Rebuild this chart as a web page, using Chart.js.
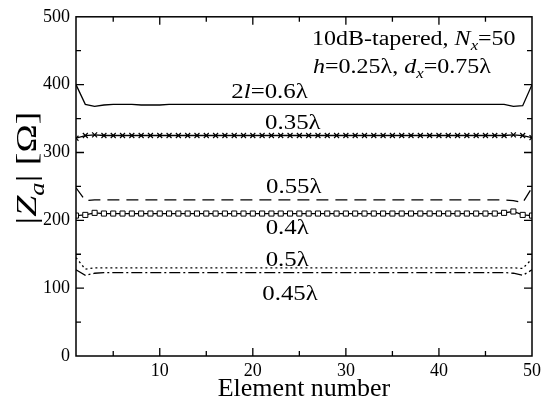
<!DOCTYPE html>
<html><head><meta charset="utf-8">
<script src="https://cdn.jsdelivr.net/npm/chart.js@4.4.0/dist/chart.umd.min.js"></script>
<style>html,body{margin:0;padding:0;background:#fff}#wrap{width:546px;height:404px}</style>
</head><body><div id="wrap"><canvas id="c" width="546" height="404"></canvas></div>
<script>
const elements = Array.from({length:50},(_,i)=>i+1);
const s06 = [400,371,368,370,371,371,371,370,370,370,371,371,371,371,371,371,371,371,371,371,371,371,371,371,371,371,371,371,371,371,371,371,371,371,371,371,371,371,371,371,371,371,371,371,371,371,371,368,369,400];
const s035 = [321,325,326,325,325,325,325,325,325,325,325,325,325,325,325,325,325,325,325,325,325,325,325,325,325,325,325,325,325,325,325,325,325,325,325,325,325,325,325,325,325,325,325,325,325,325,325,326,325,322];
const s055 = [248,229,230,230,230,230,230,230,230,230,230,230,230,230,230,230,230,230,230,230,230,230,230,230,230,230,230,230,230,230,230,230,230,230,230,230,230,230,230,230,230,230,230,230,230,230,230,229,226,248];
const s04 = [207,208,211,210,210,210,210,210,210,210,210,210,210,210,210,210,210,210,210,210,210,210,210,210,210,210,210,210,210,210,210,210,210,210,210,210,210,210,210,210,210,210,210,210,210,210,211,213,208,207];
const s05 = [145,128,130,130,130,130,130,130,130,130,130,130,130,130,130,130,130,130,130,130,130,130,130,130,130,130,130,130,130,130,130,130,130,130,130,130,130,130,130,130,130,130,130,130,130,130,130,130,129,143];
const s045 = [127,119,122,123,123,123,123,123,123,123,123,123,123,123,123,123,123,123,123,123,123,123,123,123,123,123,123,123,123,123,123,123,123,123,123,123,123,123,123,123,123,123,123,123,123,123,123,122,119,127];
const xTickLabels = [10,20,30,40,50];
const yTickLabels = [0,100,200,300,400,500];

const F = 'Liberation Serif';
const toPts = arr => arr.map((v,i)=>({x:elements[i], y:v}));

function drawRich(ctx, segs, x, y, size, align, hs){
  hs = hs || 1;
  let w = 0;
  const fontOf = s => (s.italic?'italic ':'') + (s.sub? Math.round(size*0.7):size) + 'px "'+F+'"';
  segs.forEach(s=>{ctx.font=fontOf(s); s.w=ctx.measureText(s.t).width; w+=s.w;});
  ctx.save();
  ctx.translate(x, y);
  ctx.scale(hs, 1);
  let cx = align==='center'? -w/2 : align==='right'? -w : 0;
  ctx.textBaseline='alphabetic';
  ctx.textAlign='left';
  segs.forEach(s=>{ctx.font=fontOf(s); ctx.fillText(s.t, cx, (s.sub? size*0.25:0)); cx+=s.w;});
  ctx.restore();
}

const decor = {
  id:'decor',
  afterDraw(chart){
    const {ctx, chartArea:a, scales:{x,y}} = chart;
    ctx.save();
    ctx.strokeStyle='#000'; ctx.lineWidth=1.5;
    ctx.strokeRect(a.left, a.top, a.right-a.left, a.bottom-a.top);
    ctx.lineWidth=1.3;
    ctx.beginPath();
    for(let v=5; v<50; v+=5){
      const px=x.getPixelForValue(v), L = v%10===0?8:5;
      ctx.moveTo(px,a.bottom); ctx.lineTo(px,a.bottom-L);
      ctx.moveTo(px,a.top); ctx.lineTo(px,a.top+L);
    }
    for(let v=50; v<500; v+=50){
      const py=y.getPixelForValue(v), L = v%100===0?8:5;
      ctx.moveTo(a.left,py); ctx.lineTo(a.left+L,py);
      ctx.moveTo(a.right,py); ctx.lineTo(a.right-L,py);
    }
    ctx.stroke();
    ctx.fillStyle='#000';
    const X=v=>x.getPixelForValue(v), Y=v=>y.getPixelForValue(v);
    drawRich(ctx,[{t:'10dB-tapered, '},{t:'N',italic:true},{t:'x',italic:true,sub:true},{t:'=50'}], 312, 45, 20,'left',1.2);
    drawRich(ctx,[{t:'h',italic:true},{t:'=0.25λ, '},{t:'d',italic:true},{t:'x',italic:true,sub:true},{t:'=0.75λ'}], 313, 73, 20,'left',1.2);
    drawRich(ctx,[{t:'2'},{t:'l',italic:true},{t:'=0.6λ'}], X(21.8), Y(381), 22,'center',1.13);
    drawRich(ctx,[{t:'0.35λ'}], X(24.3), Y(334), 22,'center',1.13);
    drawRich(ctx,[{t:'0.55λ'}], X(24.4), Y(240), 22,'center',1.13);
    drawRich(ctx,[{t:'0.4λ'}], X(23.7), Y(180), 22,'center',1.13);
    drawRich(ctx,[{t:'0.5λ'}], X(23.7), Y(133), 22,'center',1.13);
    drawRich(ctx,[{t:'0.45λ'}], X(24), Y(82), 22,'center',1.13);
    drawRich(ctx,[{t:'Element number'}], 304, 396, 26,'center');
    ctx.save();
    ctx.translate(36,168); ctx.rotate(-Math.PI/2);
    drawRich(ctx,[{t:'|'},{t:'Z',italic:true},{t:'a',italic:true,sub:true},{t:'| [Ω]'}], 0, 0, 30,'center',1.27);
    ctx.restore();
    ctx.restore();
  }
};

const common = {borderColor:'#000', backgroundColor:'#000', borderWidth:1.3, pointRadius:0, tension:0, fill:false};
new Chart(document.getElementById('c'), {
  type:'line',
  data:{datasets:[
    {...common, label:'2l=0.6λ', data:toPts(s06)},
    {...common, label:'0.35λ', data:toPts(s035), pointStyle:'crossRot', pointRadius:3.5, pointBorderWidth:1.2},
    {...common, label:'0.55λ', data:toPts(s055), borderDash:[12,7]},
    {...common, label:'0.4λ', data:toPts(s04), pointStyle:'rect', pointRadius:3.6, pointBackgroundColor:'#fff', pointBorderWidth:1},
    {...common, label:'0.5λ', data:toPts(s05), borderDash:[2,3]},
    {...common, label:'0.45λ', data:toPts(s045), borderDash:[11,3,2,3]},
  ]},
  options:{
    responsive:false, animation:false, events:[],
    layout:{padding:{left:0,right:14,top:15,bottom:0}},
    plugins:{legend:{display:false}, tooltip:{enabled:false}},
    scales:{
      x:{type:'linear', min:1, max:50,
        grid:{display:false, drawTicks:false}, border:{display:false},
        afterBuildTicks:s=>{s.ticks=xTickLabels.map(v=>({value:v}));},
        afterFit:s=>{s.height=48;},
        ticks:{font:{family:F,size:18}, color:'#000', padding:4, maxRotation:0}
      },
      y:{min:0, max:500,
        grid:{display:false, drawTicks:false}, border:{display:false},
        afterBuildTicks:s=>{s.ticks=yTickLabels.map(v=>({value:v}));},
        afterFit:s=>{s.width=76;},
        ticks:{font:{family:F,size:18}, color:'#000', padding:6}
      }
    }
  },
  plugins:[decor]
});
</script></body></html>
